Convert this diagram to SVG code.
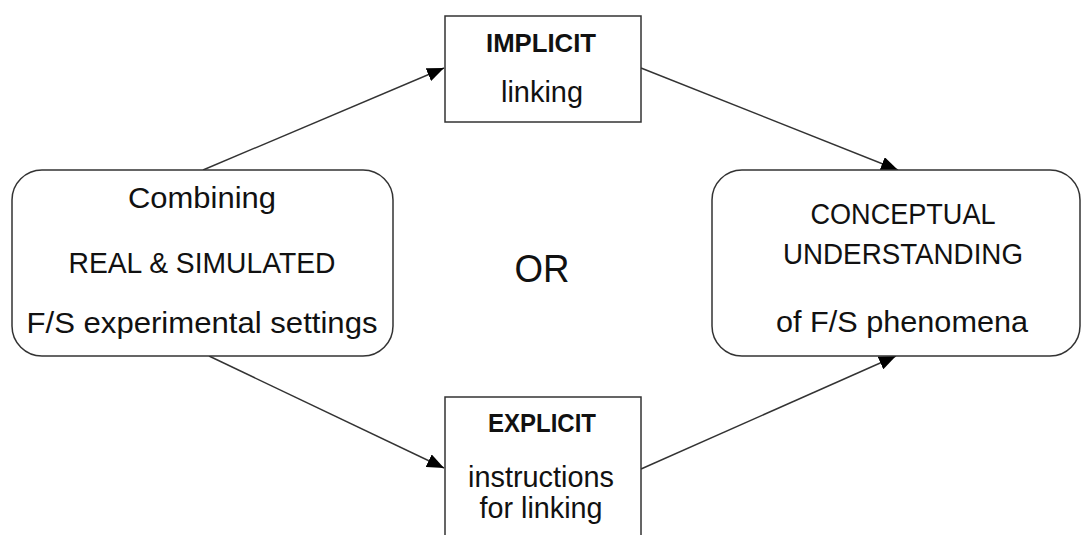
<svg xmlns="http://www.w3.org/2000/svg" width="1082" height="535" viewBox="0 0 1082 535">
<style>
.box{fill:#fff;stroke:#333;stroke-width:1.5}
.t{font-family:"Liberation Sans",Arial,sans-serif;font-size:29px;fill:#111;text-anchor:middle}
.b{font-weight:bold;font-size:26px}
.con{stroke:#333;stroke-width:1.4;fill:none;marker-end:url(#ah)}
</style>
<defs>
<marker id="ah" markerUnits="userSpaceOnUse" markerWidth="18" markerHeight="14" refX="17" refY="7" orient="auto">
<path d="M0,0 L17,7 L0,14 Z" fill="#000"/>
</marker>
</defs>
<rect width="1082" height="535" fill="#fff"/>
<g id="connectors">
<line class="con" x1="203" y1="170" x2="444" y2="68"/>
<line class="con" x1="641" y1="68" x2="898" y2="170"/>
<line class="con" x1="209" y1="356" x2="444" y2="468"/>
<line class="con" x1="641" y1="469" x2="896" y2="356"/>
</g>
<g id="combining">
<rect class="box" x="12" y="170" width="381" height="186" rx="30"/>
<text class="t" x="202" y="208" textLength="148" lengthAdjust="spacingAndGlyphs">Combining</text>
<text class="t" x="202" y="273" textLength="267" lengthAdjust="spacingAndGlyphs">REAL &amp; SIMULATED</text>
<text class="t" x="202" y="333" textLength="351" lengthAdjust="spacingAndGlyphs">F/S experimental settings</text>
</g>
<g id="or">
<text class="t" x="542" y="282" style="font-size:38px" textLength="55" lengthAdjust="spacingAndGlyphs">OR</text>
</g>
<g id="implicit">
<rect class="box" x="445" y="16" width="196" height="106"/>
<text class="t b" x="541" y="52" textLength="110" lengthAdjust="spacingAndGlyphs">IMPLICIT</text>
<text class="t" x="542" y="102" textLength="82" lengthAdjust="spacingAndGlyphs">linking</text>
</g>
<g id="explicit">
<rect class="box" x="445" y="397" width="196" height="150"/>
<text class="t b" x="542" y="432" textLength="108" lengthAdjust="spacingAndGlyphs">EXPLICIT</text>
<text class="t" x="541" y="487" textLength="146" lengthAdjust="spacingAndGlyphs">instructions</text>
<text class="t" x="541" y="518" textLength="123" lengthAdjust="spacingAndGlyphs">for linking</text>
</g>
<g id="conceptual">
<rect class="box" x="712" y="170" width="368" height="186" rx="30"/>
<text class="t" x="903" y="224" textLength="185" lengthAdjust="spacingAndGlyphs">CONCEPTUAL</text>
<text class="t" x="903" y="264" textLength="240" lengthAdjust="spacingAndGlyphs">UNDERSTANDING</text>
<text class="t" x="902" y="332" textLength="252" lengthAdjust="spacingAndGlyphs">of F/S phenomena</text>
</g>
</svg>
